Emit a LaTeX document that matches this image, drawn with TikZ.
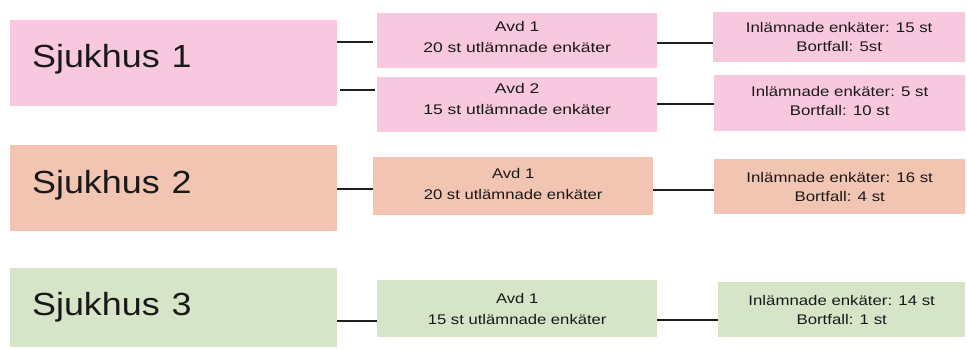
\documentclass[tikz,border=0pt]{standalone}
\usepackage{fontspec}
\setmainfont{Liberation Sans}
\usepackage{graphicx}

\definecolor{pinkbox}{RGB}{248,200,222}
\definecolor{salmonbox}{RGB}{242,196,178}
\definecolor{greenbox}{RGB}{214,229,200}
\definecolor{inkline}{RGB}{30,30,30}
\definecolor{inktext}{RGB}{25,25,25}

% horizontally widened text
\newcommand\hstretch[2]{\scalebox{#1}[1]{#2}}

\begin{document}
\begin{tikzpicture}[x=1pt,y=-1pt,
  box/.style={draw=none, inner sep=0pt, anchor=north west, text=inktext},
  hospital/.style={box, minimum width=327pt, inner xsep=22pt, text width=283pt,
    align=left, font=\fontsize{32}{38}\selectfont},
  ward/.style={box, minimum width=280pt, align=center, font=\fontsize{14}{21}\selectfont},
  result/.style={box, align=center, font=\fontsize{14}{19}\selectfont},
  link/.style={draw=inkline, line width=1.7pt}]

\useasboundingbox (0,0) rectangle (967,349);

% Sjukhus 1
\node[hospital, fill=pinkbox, minimum height=86pt, text depth=14pt] (S1) at (10,20)
  {\hstretch{1.12}{Sjukhus 1}};
\node[ward, fill=pinkbox, minimum height=55pt, text depth=8pt] (A11) at (377,13)
  {\hstretch{1.25}{Avd 1}\\\hstretch{1.25}{20 st utlämnade enkäter}};
\node[ward, fill=pinkbox, minimum height=55pt, text depth=11pt] (A12) at (377,77)
  {\hstretch{1.25}{Avd 2}\\\hstretch{1.25}{15 st utlämnade enkäter}};
\node[result, fill=pinkbox, minimum width=252pt, minimum height=50pt] (R11) at (713,12)
  {\hstretch{1.2}{Inlämnade enkäter: 15 st}\\\hstretch{1.2}{Bortfall: 5st}};
\node[result, fill=pinkbox, minimum width=251pt, minimum height=56pt, text depth=4pt] (R12) at (714,75)
  {\hstretch{1.2}{Inlämnade enkäter: 5 st}\\\hstretch{1.2}{Bortfall: 10 st}};

% Sjukhus 2
\node[hospital, fill=salmonbox, minimum height=86pt, text depth=12pt] (S2) at (10,145)
  {\hstretch{1.12}{Sjukhus 2}};
\node[ward, fill=salmonbox, minimum height=58pt, text depth=4pt] (A21) at (373,157)
  {\hstretch{1.19}{Avd 1}\\\hstretch{1.19}{20 st utlämnade enkäter}};
\node[result, fill=salmonbox, minimum width=251pt, minimum height=55pt] (R21) at (714,159)
  {\hstretch{1.2}{Inlämnade enkäter: 16 st}\\\hstretch{1.2}{Bortfall: 4 st}};

% Sjukhus 3
\node[hospital, fill=greenbox, minimum height=79pt] (S3) at (10,268)
  {\hstretch{1.12}{Sjukhus 3}};
\node[ward, fill=greenbox, minimum height=57pt] (A31) at (377,280)
  {\hstretch{1.19}{Avd 1}\\\hstretch{1.19}{15 st utlämnade enkäter}};
\node[result, fill=greenbox, minimum width=247pt, minimum height=55pt] (R31) at (718,282)
  {\hstretch{1.2}{Inlämnade enkäter: 14 st}\\\hstretch{1.2}{Bortfall: 1 st}};

% connectors
\coordinate (y1) at (0,42);
\coordinate (y2) at (0,90);
\coordinate (y3) at (0,43);
\coordinate (y4) at (0,104);
\coordinate (y5) at (0,189);
\coordinate (y6) at (0,190);
\coordinate (y7) at (0,321);
\coordinate (y8) at (0,320);

\draw[link] (S1.east |- y1) -- ([xshift=-4pt]A11.west |- y1);
\draw[link] ([xshift=3pt]S1.east |- y2) -- ([xshift=-2pt]A12.west |- y2);
\draw[link] (A11.east |- y3) -- (R11.west |- y3);
\draw[link] (A12.east |- y4) -- (R12.west |- y4);
\draw[link] (S2.east |- y5) -- (A21.west |- y5);
\draw[link] (A21.east |- y6) -- (R21.west |- y6);
\draw[link] (S3.east |- y7) -- (A31.west |- y7);
\draw[link] (A31.east |- y8) -- (R31.west |- y8);

\end{tikzpicture}
\end{document}
